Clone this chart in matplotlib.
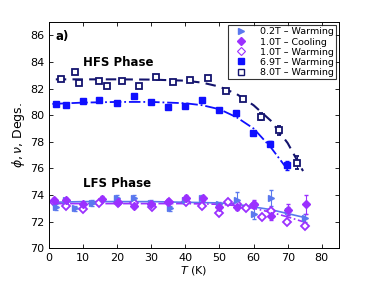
import matplotlib
matplotlib.use("Agg")
import matplotlib.pyplot as plt
from matplotlib.lines import Line2D

# HFS phase data
T_80 = [3.5, 7.7, 8.9, 14.7, 17, 21.3, 26.3, 31.3, 36.3, 41.3, 46.5, 51.8, 56.8, 62.3, 67.5, 72.7]
y_80 = [82.7, 83.24, 82.44, 82.6, 82.2, 82.57, 82.2, 82.87, 82.5, 82.67, 82.82, 81.86, 81.2, 79.9, 78.86, 76.43]
e_80 = [0.1, 0.1, 0.1, 0.1, 0.1, 0.1, 0.1, 0.1, 0.1, 0.1, 0.1, 0.1, 0.15, 0.25, 0.35, 0.5]

T_69 = [2, 4.9, 10, 14.7, 19.9, 24.9, 29.9, 34.9, 39.9, 44.9, 49.9, 54.8, 59.9, 64.9, 69.9]
y_69 = [80.86, 80.79, 81.1, 81.15, 80.94, 81.47, 80.99, 80.61, 80.66, 81.11, 80.41, 80.16, 78.65, 77.86, 76.23]
e_69 = [0.1, 0.1, 0.1, 0.1, 0.1, 0.1, 0.1, 0.1, 0.1, 0.1, 0.1, 0.1, 0.15, 0.2, 0.35]

fitT_80 = [2, 10, 20, 30, 40, 45, 50, 55, 60, 65, 70, 74.5]
fity_80 = [82.7, 82.7, 82.7, 82.68, 82.6, 82.45, 82.15, 81.6, 80.75, 79.6, 77.9, 75.8]
fitT_69 = [1, 10, 20, 30, 40, 45, 50, 55, 60, 65, 70]
fity_69 = [80.85, 80.95, 81.0, 81.0, 80.9, 80.75, 80.45, 79.85, 79.0, 77.6, 75.9]

# LFS phase data
T_02 = [2, 5, 7.6, 12.7, 20, 25, 30, 35.5, 40, 45, 50, 55, 60, 65, 70, 75]
y_02 = [73.1, 73.6, 73.0, 73.4, 73.8, 73.8, 73.4, 73.0, 73.6, 73.8, 73.3, 73.6, 72.6, 73.8, 72.8, 72.3]
e_02 = [0.2, 0.2, 0.2, 0.2, 0.2, 0.2, 0.2, 0.2, 0.2, 0.2, 0.2, 0.6, 0.4, 0.6, 0.3, 0.3]

T_10c = [1.6, 4.9, 10, 15.4, 20.1, 25, 30, 35, 40.3, 45.3, 50, 55.2, 60, 65, 70, 75.3]
y_10c = [73.6, 73.6, 73.3, 73.73, 73.5, 73.2, 73.3, 73.5, 73.8, 73.75, 73.13, 73.1, 73.3, 72.4, 72.9, 73.3]
e_10c = [0.2, 0.2, 0.2, 0.2, 0.2, 0.2, 0.2, 0.2, 0.2, 0.2, 0.2, 0.2, 0.3, 0.3, 0.4, 0.7]

T_10w = [1.6, 4.9, 10, 14.7, 20.1, 24.9, 30.1, 35.1, 40.1, 45, 49.9, 52.6, 55, 57.7, 60.2, 62.4, 65, 69.9, 75]
y_10w = [73.44, 73.17, 72.97, 73.42, 73.42, 73.42, 73.1, 73.44, 73.44, 73.14, 72.64, 73.44, 73.34, 73.02, 73.27, 72.34, 72.77, 71.96, 71.7]

fitT_02 = [1, 10, 20, 30, 40, 50, 55, 60, 65, 70, 75]
fity_02 = [73.45, 73.5, 73.5, 73.5, 73.45, 73.4, 73.3, 73.1, 72.9, 72.6, 72.3]
fitT_10 = [1, 10, 20, 30, 40, 50, 55, 60, 65, 70, 75]
fity_10 = [73.35, 73.35, 73.35, 73.35, 73.35, 73.3, 73.2, 73.0, 72.7, 72.35, 71.95]

labels = ['0.2T \u2013 Warming', '1.0T \u2013 Cooling', '1.0T \u2013 Warming',
          '6.9T \u2013 Warming', '8.0T \u2013 Warming']

c_02 = '#5a78ee'
c_10 = '#9b30ff'
c_69 = '#1010ff'
c_80 = '#14146e'

fig = plt.figure(figsize=(3.74, 2.81), dpi=100)
ax = fig.add_axes([0.131, 0.117, 0.775, 0.804])

# fit lines
ax.plot(fitT_80, fity_80, '--', color=c_80, lw=1.5, dashes=(5, 3))
ax.plot(fitT_69, fity_69, '-.', color=c_69, lw=1.3)
ax.plot(fitT_02, fity_02, '-', color=c_02, lw=1.2)
ax.plot(fitT_10, fity_10, '-.', color=c_10, lw=1.2)

# data
ax.errorbar(T_02, y_02, yerr=e_02, fmt='>', color=c_02, ms=5, capsize=1.5, elinewidth=0.8)
ax.errorbar(T_10c, y_10c, yerr=e_10c, fmt='D', color=c_10, ms=4.2, capsize=1.5, elinewidth=0.8)
ax.plot(T_10w, y_10w, 'D', mfc='white', mec=c_10, ms=4.2, mew=1.3, ls='none')
ax.errorbar(T_69, y_69, yerr=e_69, fmt='s', color=c_69, ms=5, capsize=1.5, elinewidth=0.8)
ax.errorbar(T_80, y_80, yerr=e_80, fmt='s', color=c_80, mfc='white', mec=c_80, mew=1.3,
            ms=5, capsize=1.5, elinewidth=0.8)

ax.set_xlim(0, 85)
ax.set_ylim(70, 87)
ax.set_xticks(range(0, 81, 10))
ax.set_yticks(range(70, 87, 2))
ax.tick_params(direction='in', top=True, right=True, labelsize=8, length=3, width=0.6)
for s in ax.spines.values():
    s.set_linewidth(0.7)

ax.set_xlabel('$T$ (K)', fontsize=8, labelpad=1)
ax.set_ylabel(r'$\phi, \nu$, Degs.', fontsize=9, labelpad=2)

ax.text(2, 85.9, 'a)', fontsize=8.5, fontweight='bold', va='center')
ax.text(10, 84.0, 'HFS Phase', fontsize=8.5, fontweight='bold', va='center')
ax.text(10, 74.9, 'LFS Phase', fontsize=8.5, fontweight='bold', va='center')

handles = [
    Line2D([], [], marker='>', ls='none', color=c_02, ms=5),
    Line2D([], [], marker='D', ls='none', color=c_10, ms=4.2),
    Line2D([], [], marker='D', ls='none', mfc='white', mec=c_10, ms=4.2, mew=0.8),
    Line2D([], [], marker='s', ls='none', color=c_69, ms=4.5),
    Line2D([], [], marker='s', ls='none', mfc='white', mec=c_80, ms=4.5, mew=1.0),
]
leg = ax.legend(handles, labels, loc='upper right', fontsize=6.8, frameon=True,
                fancybox=False, edgecolor='black', borderpad=0.25, labelspacing=0.12,
                handletextpad=0.9, handlelength=2.2, borderaxespad=0.3)
leg.get_frame().set_linewidth(0.8)

fig.savefig('out.png', dpi=100)
